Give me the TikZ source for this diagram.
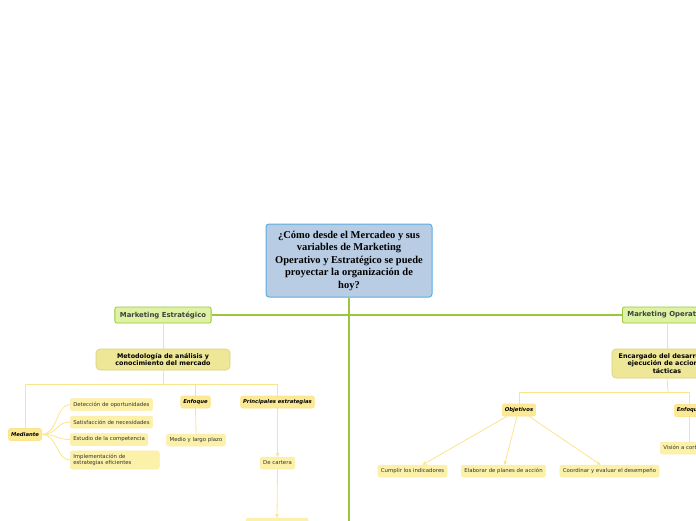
\documentclass[tikz,border=0pt]{standalone}
\usepackage{fontspec}
\setmainfont{DejaVu Sans}
\newfontfamily\rootfont{Liberation Serif}
\usetikzlibrary{arrows.meta}

\definecolor{rootfill}{HTML}{B8CCE4}
\definecolor{rootdraw}{HTML}{5DADE2}
\definecolor{mkfill}{HTML}{DDF3A3}
\definecolor{mkdraw}{HTML}{9BC53D}
\definecolor{metfill}{HTML}{EDE797}
\definecolor{metdraw}{HTML}{D9D07A}
\definecolor{tanline}{HTML}{E9E2B0}
\definecolor{yfill}{HTML}{FCF1A9}
\definecolor{ylabel}{HTML}{FBE995}
\definecolor{yline}{HTML}{FBE58C}

\begin{document}
\begin{tikzpicture}[x=1pt, y=-1pt,
  every node/.style={font=\fontsize{5.4}{6.6}\selectfont, text=black!80},
  rootbox/.style={draw=rootdraw, line width=1pt, fill=rootfill, rounded corners=3pt,
    minimum width=166, minimum height=73, align=center, inner sep=0pt,
    font=\rootfont\bfseries\fontsize{10.5}{12.5}\selectfont, text=black},
  mkbox/.style={draw=mkdraw, line width=0.8pt, fill=mkfill, rounded corners=2pt,
    minimum height=16, inner ysep=0pt, inner xsep=5pt,
    font=\bfseries\fontsize{6.9}{8}\selectfont, text=black!75},
  metbox/.style={draw=metdraw, line width=0.6pt, fill=metfill, rounded corners=4pt,
    minimum height=21, inner sep=0pt, align=center,
    font=\bfseries\fontsize{6.4}{7.6}\selectfont, text=black},
  labelbox/.style={draw=yline, line width=0.6pt, fill=ylabel, rounded corners=2pt,
    minimum height=12, inner sep=2.5pt, font=\bfseries\itshape\fontsize{5.3}{6}\selectfont, text=black},
  leaf/.style={draw=yline!70, line width=0.5pt, fill=yfill, rounded corners=2pt,
    minimum height=12, inner sep=3pt},
  mainline/.style={draw=mkdraw, line width=1.5pt},
  linkline/.style={draw=tanline, line width=1pt},
  branch/.style={draw=yline, line width=0.8pt},
  arr/.style={branch, -{Stealth[length=4pt, width=4pt]}}]
  \useasboundingbox (0,0) rectangle (696,520);
  \clip (0,0) rectangle (696,520);

  % Central question
  \node[rootbox] (q) at (349,260.5) {¿Cómo desde el Mercadeo y sus\\variables de Marketing\\Operativo y Estratégico se puede\\proyectar la organización de\\hoy?};
  \coordinate (qend) at (349,530);

  % Main branches
  \node[mkbox] (me) at (163,315) {Marketing Estratégico};
  \node[mkbox, anchor=west] (mo) at (622,315) {Marketing Operativo};
  \draw[mainline] (q.south) -- (qend);
  \draw[mainline] (me.east) -- (mo.west);

  % Marketing Estrategico
  \node[metbox, minimum width=134] (met) at (163,359.5) {Metodología de análisis y\\conocimiento del mercado};
  \draw[linkline] (me.south) -- (met.north);
  \coordinate (b1) at (163,384);

  \node[labelbox] (med) at (25,434.5) {Mediante};
  \node[labelbox] (enf1) at (195.5,402) {Enfoque};
  \node[labelbox] (pe) at (277.5,402) {Principales estrategias};
  \draw[branch] (met.south) -- (b1);
  \draw[branch] (b1) -| (med.north);
  \draw[branch] (b1) -| (enf1.north);
  \draw[branch] (b1) -| (pe.north);

  \node[leaf, anchor=west] (det) at (70,404.5) {Detección de oportunidades};
  \node[leaf, anchor=west] (sat) at (70,422) {Satisfacción de necesidades};
  \node[leaf, anchor=west] (est) at (70,439.5) {Estudio de la competencia};
  \node[leaf, anchor=west, text width=83, minimum height=18, align=left] (imp) at (70,460) {Implementación de\\estrategias eficientes};
  \foreach \n in {det,sat,est,imp} {
    \draw[branch] (med.east) .. controls +(16,0) and +(-14,0) .. (\n.west);
  }

  \node[leaf] (mlp) at (196,440) {Medio y largo plazo};
  \draw[branch] (enf1.south) -- (mlp.north);

  \node[leaf] (car) at (277.5,463) {De cartera};
  \node[leaf, minimum width=62, minimum height=20] (nxt) at (277,528) {};
  \draw[arr] (pe.south) -- (car.north);
  \draw[arr] (car.south) -- (nxt.north);

  % Marketing Operativo
  \node[metbox, minimum width=110, minimum height=29] (enc) at (667,363.5) {Encargado del desarrollo y\\ejecución de acciones\\tácticas};
  \draw[linkline] (mo.south -| enc.north) -- (enc.north);
  \coordinate (b2) at (668,392);

  \node[labelbox] (obj) at (519,410) {Objetivos};
  \node[labelbox, anchor=west] (enf2) at (674,410.5) {Enfoque};
  \draw[branch] (enc.south) -- (b2);
  \draw[branch] (b2) -| (obj.north);
  \draw[branch] (b2) -| (enf2.north);

  \node[leaf, anchor=west] (vis) at (660,448) {Visión a corto plazo};
  \draw[branch] (enf2.south) -- (enf2.south |- vis.north);

  \node[leaf] (cum) at (412.5,471) {Cumplir los indicadores};
  \node[leaf] (ela) at (503.5,471) {Elaborar de planes de acción};
  \node[leaf] (coo) at (609.5,471) {Coordinar y evaluar el desempeño};
  \draw[arr] ([xshift=-12]obj.south) -- ([xshift=10]cum.north);
  \draw[arr] ([xshift=-2]obj.south) -- ([xshift=1]ela.north);
  \draw[arr] ([xshift=10]obj.south) -- ([xshift=-9]coo.north);
\end{tikzpicture}
\end{document}
